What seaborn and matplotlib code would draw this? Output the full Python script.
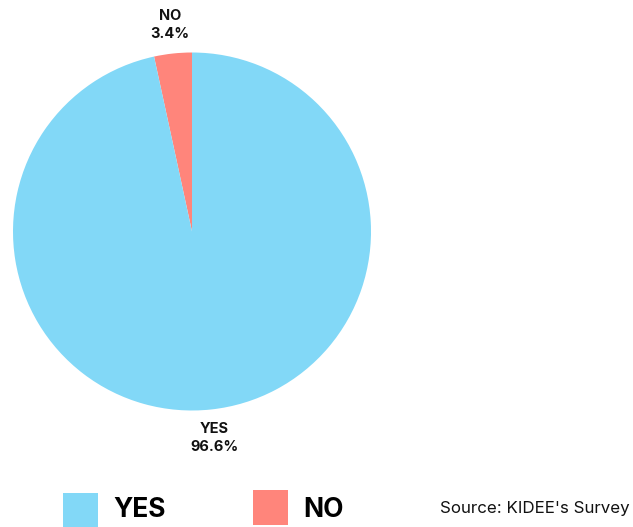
import numpy as np
import matplotlib
matplotlib.use("Agg")
import matplotlib.pyplot as plt
from matplotlib.patches import Rectangle
import seaborn as sns

# Survey answers
categories = ["NO", "YES"]
shares = [3.4, 96.6]
colors = ["#FF857B", "#82D8F7"]
source_note = "Source: KIDEE's Survey"

sns.set_theme(style="white")
plt.rcParams["font.family"] = ["Inter", "DejaVu Sans"]

W, H = 633, 527
fig = plt.figure(figsize=(W / 100, H / 100), dpi=100)
fig.patch.set_facecolor("white")

# Pie placed with its centre at (192, 231.5) px and radius 179 px
cx, cy, r = 192, 231.5, 179
ax = fig.add_axes([(cx - r) / W, 1 - (cy + r) / H, 2 * r / W, 2 * r / H])
wedges, _ = ax.pie(shares, colors=colors, startangle=90, counterclock=True,
                   wedgeprops=dict(linewidth=0), radius=1.0)
ax.set_xlim(-1, 1)
ax.set_ylim(-1, 1)
ax.set_aspect("equal")
ax.axis("off")

# Category + percentage labels outside each slice
for w, cat, val in zip(wedges, categories, shares):
    mid = np.deg2rad((w.theta1 + w.theta2) / 2)
    d = 1.16
    ax.text(d * np.cos(mid), d * np.sin(mid), f"{cat}\n{val}%",
            ha="center", va="center", fontsize=10.5, fontweight="bold",
            color="#111111", linespacing=1.35)

# Legend row along the bottom
legend_items = [("YES", colors[1], 63, 493), ("NO", colors[0], 253, 490)]
for label, col, x0, y0 in legend_items:
    fig.patches.append(Rectangle((x0 / W, 1 - (y0 + 35) / H), 35 / W, 35 / H,
                                 transform=fig.transFigure, facecolor=col,
                                 edgecolor="none"))
    fig.text((x0 + 50) / W, 1 - 510 / H, label, fontsize=19, fontweight="bold",
             color="black", ha="left", va="center")

fig.text(630 / W, 1 - 508 / H, source_note, fontsize=12.2, color="#111111",
         ha="right", va="center")

fig.savefig("out.png", dpi=100, facecolor="white")
